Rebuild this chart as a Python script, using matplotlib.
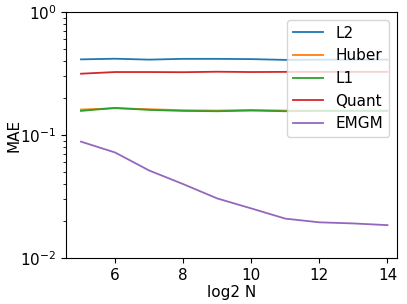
import matplotlib
matplotlib.use("Agg")
import matplotlib.pyplot as plt

log2_n = [5, 6, 7, 8, 9, 10, 11, 12, 13, 14]
mae_l2 = [0.412, 0.417, 0.410, 0.416, 0.416, 0.414, 0.408, 0.410, 0.410, 0.410]
mae_huber = [0.161, 0.165, 0.162, 0.159, 0.158, 0.160, 0.158, 0.158, 0.158, 0.158]
mae_l1 = [0.157, 0.166, 0.160, 0.157, 0.156, 0.158, 0.156, 0.157, 0.157, 0.157]
mae_quant = [0.315, 0.325, 0.325, 0.324, 0.327, 0.325, 0.326, 0.326, 0.326, 0.326]
mae_emgm = [0.0883, 0.0721, 0.0515, 0.0399, 0.0305, 0.0253, 0.0209, 0.0195, 0.0191, 0.0185]

plt.rcParams["font.size"] = 11
plt.rcParams["lines.linewidth"] = 1.3

fig = plt.figure(figsize=(4.07, 3.04), dpi=100)
ax = fig.add_axes([66 / 407, 1 - 258 / 304, (397 - 66) / 407, (258 - 12) / 304])

ax.plot(log2_n, mae_l2, label="L2")
ax.plot(log2_n, mae_huber, label="Huber")
ax.plot(log2_n, mae_l1, label="L1")
ax.plot(log2_n, mae_quant, label="Quant")
ax.plot(log2_n, mae_emgm, label="EMGM")

ax.set_yscale("log")
ax.set_ylim(1e-2, 1e0)
ax.set_xlim(4.56, 14.28)
ax.set_xticks([6, 8, 10, 12, 14])
ax.set_xlabel("log2 N", labelpad=2)
ax.set_ylabel("MAE")
ax.yaxis.set_label_coords(-0.135, 0.5)
ax.legend(loc="upper right")

fig.savefig("out.png", dpi=100)
